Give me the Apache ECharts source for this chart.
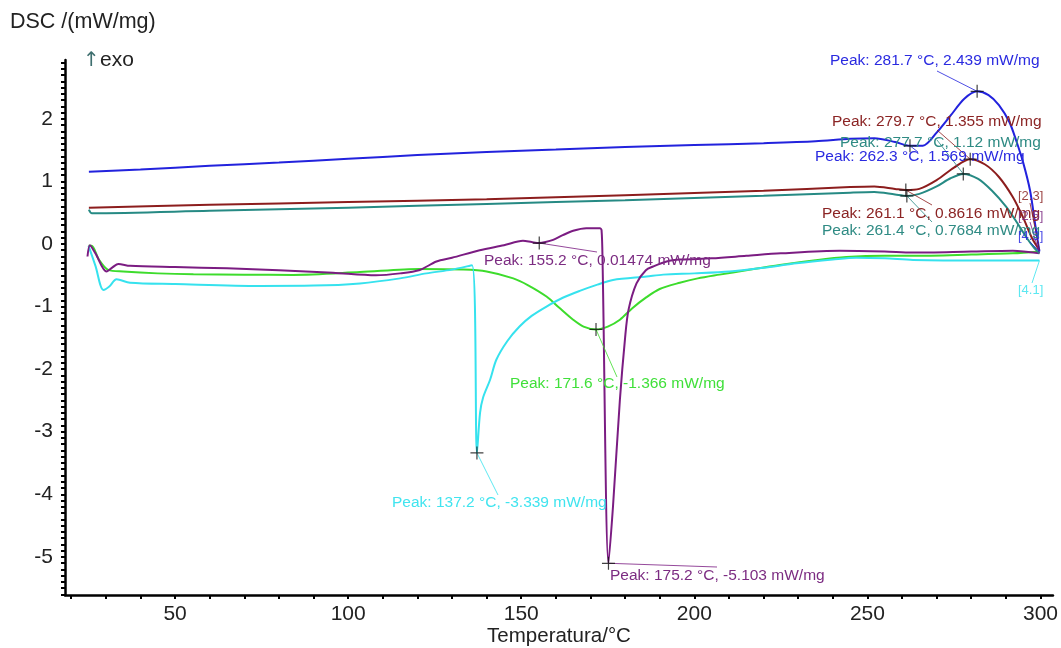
<!DOCTYPE html>
<html><head><meta charset="utf-8">
<script src="https://cdn.jsdelivr.net/npm/echarts@6/dist/echarts.min.js"></script>
<style>html,body{margin:0;padding:0;background:#fff}#c{width:1061px;height:648px}</style>
</head><body><div id="c"></div>
<script>
// ---- data ----
const blueT = [25.1, 40, 60, 80, 100, 120, 140, 160, 180, 200, 220, 235, 245, 252, 258, 262.3, 266, 270, 274, 278, 281.7, 285, 288, 291, 293, 295, 297, 298.5, 299.7];
const blueV = [1.155, 1.19, 1.25, 1.30, 1.36, 1.42, 1.47, 1.51, 1.55, 1.58, 1.61, 1.64, 1.68, 1.69, 1.63, 1.569, 1.57, 1.78, 2.05, 2.32, 2.439, 2.38, 2.22, 1.95, 1.65, 1.30, 0.85, 0.30, -0.12];

const redT = [25.1, 60, 100, 140, 180, 220, 245, 252, 258, 261.1, 265, 270, 275, 279.7, 284, 288, 292, 295, 297.5, 299.7];
const redV = [0.58, 0.625, 0.67, 0.715, 0.78, 0.85, 0.91, 0.92, 0.88, 0.8616, 0.88, 1.02, 1.22, 1.355, 1.27, 1.07, 0.75, 0.42, 0.10, -0.10];

const tealT = [25.1, 26, 60, 100, 140, 180, 220, 245, 252, 258, 261.4, 265, 270, 274, 277.7, 282, 286, 290, 293, 296, 298, 299.7];
const tealV = [0.55, 0.49, 0.53, 0.58, 0.64, 0.70, 0.77, 0.82, 0.83, 0.79, 0.7684, 0.80, 0.92, 1.05, 1.12, 1.04, 0.85, 0.60, 0.36, 0.10, -0.05, -0.15];

const purpleT = [24.7, 25.4, 27, 30.2, 32, 33.6, 37, 50, 65, 80, 95.6, 108, 115, 120.7, 125.5, 130, 138, 145, 150.5, 153, 155.2, 157, 159.2, 162, 165, 168.8, 172.7, 173.2, 173.5, 175.2, 176.5, 178.5, 180, 181, 183.3, 186, 188.1, 192, 196, 205, 215, 225, 242, 255, 263, 280, 292, 299.7];
const purpleV = [-0.2, -0.02, -0.15, -0.44, -0.37, -0.32, -0.35, -0.37, -0.39, -0.42, -0.46, -0.50, -0.47, -0.415, -0.28, -0.22, -0.10, -0.02, 0.05, 0.03, 0.01474, 0.03, 0.065, 0.14, 0.21, 0.25, 0.25, 0.22, -0.3, -5.103, -4.2, -2.49, -1.5, -1.05, -0.63, -0.42, -0.36, -0.28, -0.25, -0.23, -0.19, -0.15, -0.107, -0.12, -0.138, -0.12, -0.107, -0.15];

const greenT = [25, 25.9, 28, 30.7, 35, 45, 55.3, 70, 84.1, 103.4, 120.7, 133.3, 140, 147.7, 152, 157.3, 161, 165, 168, 171.6, 175, 178.5, 182, 186.2, 190, 195.8, 201, 207.3, 215, 224.7, 235, 243.9, 255, 263.2, 280, 292, 299.7];
const greenV = [-0.03, -0.03, -0.25, -0.415, -0.44, -0.47, -0.485, -0.49, -0.495, -0.45, -0.40, -0.41, -0.44, -0.55, -0.66, -0.84, -1.02, -1.21, -1.32, -1.366, -1.32, -1.21, -1.03, -0.85, -0.72, -0.62, -0.55, -0.49, -0.42, -0.335, -0.26, -0.21, -0.19, -0.19, -0.17, -0.15, -0.12];

const cyanT = [25, 27, 29.3, 31, 33.1, 37, 50, 74.5, 90, 103.4, 115, 122.6, 130, 135.8, 137.2, 138.1, 139, 141, 142.8, 146, 149.5, 153, 157.3, 162, 166.9, 172, 176.5, 186.2, 191, 200, 210.2, 220, 229.5, 240, 246.8, 255, 263.2, 282.4, 299.7];
const cyanV = [-0.03, -0.35, -0.735, -0.68, -0.565, -0.62, -0.64, -0.67, -0.665, -0.63, -0.55, -0.47, -0.41, -0.34, -3.339, -2.7, -2.45, -2.17, -1.85, -1.55, -1.32, -1.15, -1.0, -0.86, -0.75, -0.65, -0.575, -0.52, -0.49, -0.47, -0.44, -0.38, -0.31, -0.25, -0.22, -0.23, -0.255, -0.265, -0.265];

// peak annotations
const peakSeries = ['blue', 'red', 'teal', 'blue', 'red', 'teal', 'purple', 'green', 'cyan', 'purple'];
const peakT = [281.7, 279.7, 277.7, 262.3, 261.1, 261.4, 155.2, 171.6, 137.2, 175.2];
const peakV = [2.439, 1.355, 1.12, 1.569, 0.8616, 0.7684, 0.01474, -1.366, -3.339, -5.103];
const peakText = [
  'Peak: 281.7 °C, 2.439 mW/mg',
  'Peak: 279.7 °C, 1.355 mW/mg',
  'Peak: 277.7 °C, 1.12 mW/mg',
  'Peak: 262.3 °C, 1.569 mW/mg',
  'Peak: 261.1 °C, 0.8616 mW/mg',
  'Peak: 261.4 °C, 0.7684 mW/mg',
  'Peak: 155.2 °C, 0.01474 mW/mg',
  'Peak: 171.6 °C, -1.366 mW/mg',
  'Peak: 137.2 °C, -3.339 mW/mg',
  'Peak: 175.2 °C, -5.103 mW/mg'
];
// curve-end tags
const tagSeries = ['red', 'purple', 'blue', 'cyan'];
const tagText = ['[2.3]', '[2.5]', '[4.3]', '[4.1]'];

// tick labels
const xTickLabels = [50, 100, 150, 200, 250, 300];
const yTickLabels = [-5, -4, -3, -2, -1, 0, 1, 2];

// ---- styling / layout ----
const colors = {blue: '#2222dd', red: '#8c1d1d', teal: '#268a84', purple: '#7b1c82', green: '#3ddc2c', cyan: '#36e2ee'};
const textColors = {blue: '#2a2ae0', red: '#8b2424', teal: '#2f8b84', purple: '#7c2c82', green: '#40e03a', cyan: '#40e4ef'};
// label layout in pixels: text left x, text middle y, leader end x, leader end y
const peakLayout = [
  [830, 61, 937, 71],
  [832, 122, 937, 130],
  [840, 143, 937, 140],
  [815, 157, 918, 152],
  [822, 214, 932, 205],
  [822, 231, 932, 222],
  [484, 261, 597, 252],
  [510, 384, 617, 377],
  [392, 503, 498, 495],
  [610, 576, 717, 567]
];
const tagLayout = [
  [1018, 196, 1030, 203],
  [1018, 216, 1030, 222],
  [1018, 236, 1030, 242],
  [1018, 290, 1032, 283]
];

const xTicks = [];
for (let v = 20; v <= 300; v += 10) xTicks.push(v);
const yTicks = [];
for (let i = -56; i <= 29; i++) yTicks.push(i / 10);

const seriesDefs = [
  ['green', greenT, greenV],
  ['cyan', cyanT, cyanV],
  ['purple', purpleT, purpleV],
  ['teal', tealT, tealV],
  ['red', redT, redV],
  ['blue', blueT, blueV]
];
const FONT = '"Liberation Sans", Arial, sans-serif';

const chart = echarts.init(document.getElementById('c'), null, {renderer: 'canvas'});
const option = {
  animation: false,
  backgroundColor: '#fff',
  grid: {left: 65, right: 8, top: 60, bottom: 53, containLabel: false},
  xAxis: {
    type: 'value', min: 18.2, max: 303.6,
    splitLine: {show: false},
    axisLine: {onZero: false, lineStyle: {color: '#000', width: 2.5}},
    axisTick: {customValues: xTicks, length: 4, lineStyle: {color: '#000', width: 2}},
    axisLabel: {customValues: xTickLabels, margin: 9, fontSize: 21, color: '#222', fontFamily: FONT}
  },
  yAxis: {
    type: 'value', min: -5.61, max: 2.94,
    splitLine: {show: false},
    axisLine: {onZero: false, lineStyle: {color: '#000', width: 2.5}},
    axisTick: {customValues: yTicks, length: 4, lineStyle: {color: '#000', width: 2}},
    axisLabel: {customValues: yTickLabels, margin: 12, fontSize: 21, color: '#222', fontFamily: FONT}
  },
  series: seriesDefs.map(([k, T, V]) => ({
    type: 'line', name: k, showSymbol: false, symbol: 'none',
    smooth: 0.3,
    lineStyle: {color: colors[k], width: 2},
    data: T.map((t, i) => [t, V[i]])
  })).concat([{
    type: 'scatter', name: 'peaks', z: 10,
    symbol: 'path://M0,6L12,6M6,0L6,12', symbolSize: 13,
    itemStyle: {color: 'none', borderColor: '#111', borderWidth: 1.2},
    data: peakT.map((t, i) => [t, peakV[i]])
  }])
};
chart.setOption(option);

const graphics = [];
graphics.push({type: 'text', x: 10, y: 22, style: {text: 'DSC /(mW/mg)', font: '21.5px ' + FONT, fill: '#222', verticalAlign: 'middle'}});
graphics.push({type: 'text', x: 83, y: 61, style: {text: '↑', font: '20px "DejaVu Sans", sans-serif', fill: '#3e6f6f', verticalAlign: 'middle'}});
graphics.push({type: 'text', x: 100, y: 60, style: {text: 'exo', font: '21px ' + FONT, fill: '#222', verticalAlign: 'middle'}});
graphics.push({type: 'text', x: 559, y: 636, style: {text: 'Temperatura/°C', font: '20.5px ' + FONT, fill: '#222', align: 'center', verticalAlign: 'middle'}});

peakT.forEach((t, i) => {
  const p = chart.convertToPixel({xAxisIndex: 0, yAxisIndex: 0}, [t, peakV[i]]);
  const [tx, ty, lx, ly] = peakLayout[i];
  const k = peakSeries[i];
  graphics.push({type: 'line', z: 5, shape: {x1: p[0], y1: p[1], x2: lx, y2: ly}, style: {stroke: colors[k], lineWidth: 1, opacity: 0.8}});
  graphics.push({type: 'text', z: 6, x: tx, y: ty, style: {text: peakText[i], font: '15.5px ' + FONT, fill: textColors[k], verticalAlign: 'middle', align: 'left'}});
});
const lastPoint = {};
seriesDefs.forEach(([k, T, V]) => { lastPoint[k] = [T[T.length - 1], V[V.length - 1]]; });
tagText.forEach((txt, i) => {
  const k = tagSeries[i];
  const p = chart.convertToPixel({xAxisIndex: 0, yAxisIndex: 0}, lastPoint[k]);
  const [tx, ty, lx, ly] = tagLayout[i];
  graphics.push({type: 'line', z: 5, shape: {x1: p[0], y1: p[1], x2: lx, y2: ly}, style: {stroke: colors[k], lineWidth: 1, opacity: 0.8}});
  graphics.push({type: 'text', z: 6, x: tx, y: ty, style: {text: txt, font: '13px ' + FONT, fill: textColors[k], verticalAlign: 'middle', align: 'left', opacity: 0.85}});
});
chart.setOption({graphic: graphics});
</script>
</body></html>
